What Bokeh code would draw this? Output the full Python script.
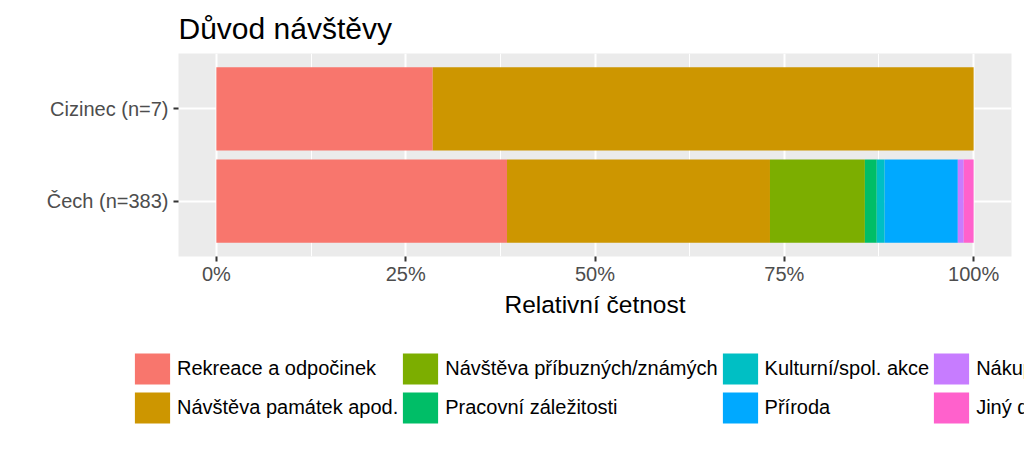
from bokeh.plotting import figure
from bokeh.models import (ColumnDataSource, FactorRange, Range1d, FixedTicker,
                          NumeralTickFormatter, Legend, LegendItem)
from bokeh.embed import file_html
from bokeh.resources import INLINE

# ---- data ----
groups = ["Čech (n=383)", "Cizinec (n=7)"]
reasons = ["Rekreace a odpočinek", "Návštěva památek apod.",
           "Návštěva příbuzných/známých", "Pracovní záležitosti",
           "Kulturní/spol. akce", "Příroda", "Nákupy", "Jiný důvod"]
cech_counts = [147, 133, 48, 6, 4, 37, 3, 5]
cizinec_counts = [2, 5, 0, 0, 0, 0, 0, 0]
colors = ["#F8766D", "#CD9600", "#7CAE00", "#00BE67",
          "#00BFC4", "#00A9FF", "#C77CFF", "#FF61CC"]
x_ticks = [0, 0.25, 0.5, 0.75, 1.0]
x_minor = [0.125, 0.375, 0.625, 0.875]
legend_order = [0, 2, 4, 6, 1, 3, 5, 7]  # column-major layout, 2 rows

FONT = "Liberation Sans"

keys = ["c%d" % i for i in range(len(reasons))]
data = {"group": groups}
for k, a, b in zip(keys, cech_counts, cizinec_counts):
    data[k] = [a / sum(cech_counts), b / sum(cizinec_counts)]
source = ColumnDataSource(data)

# ---- main chart ----
p = figure(width=1024, height=349, output_backend="svg", toolbar_location=None,
           y_range=FactorRange(*groups, range_padding=0.1, range_padding_units="absolute"),
           x_range=Range1d(-0.05, 1.05),
           min_border_left=178, min_border_right=13, min_border_top=53,
           min_border_bottom=93, title="Důvod návštěvy")

renderers = p.hbar_stack(keys, y="group", height=0.9, color=colors, line_color=None,
                         source=source)

p.background_fill_color = "#EBEBEB"
p.border_fill_color = "white"
p.outline_line_color = None

p.title.text_font = FONT
p.title.text_font_size = "30px"
p.title.text_font_style = "normal"
p.title.text_color = "black"
p.title.align = "left"
p.title.standoff = 17

p.xaxis.ticker = FixedTicker(ticks=x_ticks, minor_ticks=x_minor)
p.xaxis.formatter = NumeralTickFormatter(format="0%")
p.xaxis.axis_label = "Relativní četnost"
p.xaxis.axis_label_text_font = FONT
p.xaxis.axis_label_text_font_size = "24.5px"
p.xaxis.axis_label_text_font_style = "normal"
p.xaxis.axis_label_text_color = "black"
p.xaxis.axis_label_standoff = 3
p.xaxis.major_label_standoff = 1

for ax in (p.xaxis, p.yaxis):
    ax.axis_line_color = None
    ax.major_tick_line_color = "#333333"
    ax.major_tick_line_width = 2
    ax.major_tick_out = 5
    ax.major_tick_in = 0
    ax.minor_tick_line_color = None
    ax.major_label_text_font = FONT
    ax.major_label_text_font_size = "20px"
    ax.major_label_text_color = "#4D4D4D"
p.yaxis.major_label_standoff = 5

p.xgrid.grid_line_color = "white"
p.xgrid.grid_line_width = 2
p.xgrid.minor_grid_line_color = "white"
p.xgrid.minor_grid_line_width = 1
p.ygrid.grid_line_color = "white"
p.ygrid.grid_line_width = 2

# ---- legend strip: separate root, full-width frame, clipped at the window edge ----
p2 = figure(width=1024, height=106, output_backend="svg", toolbar_location=None,
            y_range=FactorRange(*groups), x_range=Range1d(0, 1),
            x_axis_location=None, y_axis_location=None, min_border=0)
p2.outline_line_color = None
p2.grid.visible = False
proxies = p2.hbar_stack(keys, y="group", height=0.9, color=colors, line_color=None,
                        source=source, visible=False)

items = [LegendItem(label=reasons[i], renderers=[proxies[i]]) for i in legend_order]
legend = Legend(items=items, location=(130, 28), orientation="horizontal", ncols=4,
                label_text_font=FONT, label_text_font_size="20px",
                label_text_color="black",
                glyph_width=44, glyph_height=39, label_standoff=3, spacing=0,
                padding=0, margin=0, border_line_color=None,
                background_fill_alpha=0)
p2.add_layout(legend, "center")

open("out.html", "w").write(file_html([p, p2], INLINE))
